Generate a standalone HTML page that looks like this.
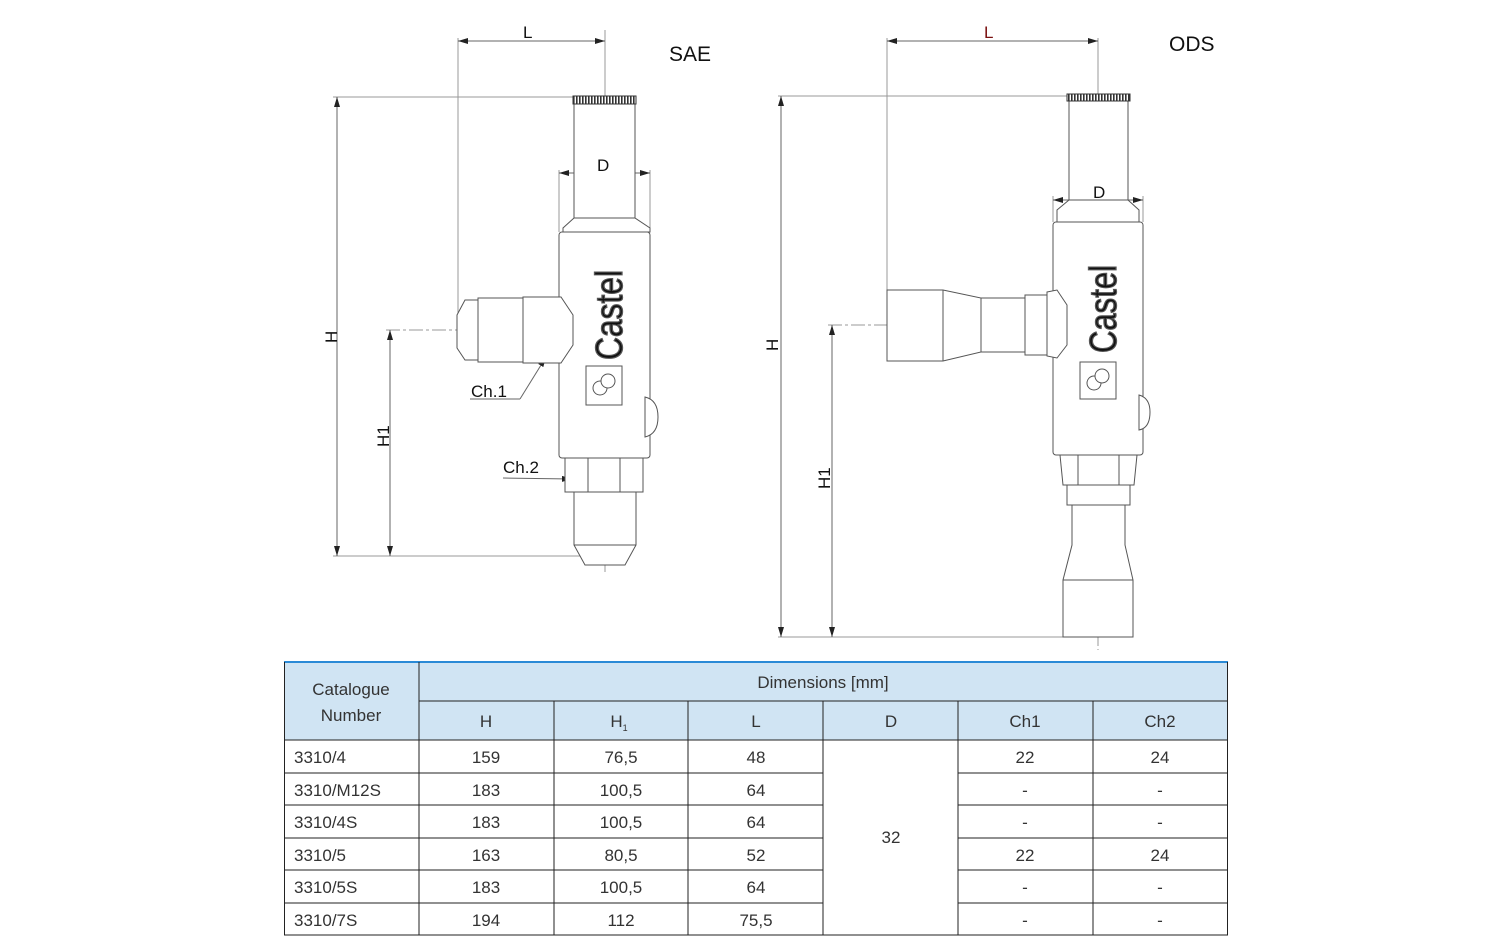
<!DOCTYPE html>
<html><head><meta charset="utf-8"><style>
html,body{margin:0;padding:0;background:#fff;}
svg{display:block;}
.t{font-family:"Liberation Sans",Arial,sans-serif;fill:#111;}
.n{font-family:"Liberation Sans Narrow","Liberation Sans",sans-serif;fill:#333;font-size:17px;}
</style></head><body>
<svg width="1500" height="941" viewBox="0 0 1500 941" xmlns="http://www.w3.org/2000/svg">
<defs>
<marker id="a" viewBox="0 0 10 6" refX="10" refY="3" markerWidth="10" markerHeight="6" orient="auto-start-reverse"><path d="M0,0L10,3L0,6z" fill="#222"/></marker>
<pattern id="kn" width="3" height="8" patternUnits="userSpaceOnUse"><rect width="3" height="8" fill="#fff"/><rect width="1.6" height="8" fill="#333"/></pattern>
</defs>
<g stroke="#999" stroke-width="1" fill="none">
<line x1="458" y1="38" x2="458" y2="330"/>
<line x1="605" y1="38" x2="605" y2="97"/>
<line x1="333" y1="97" x2="573" y2="97"/>
<line x1="333" y1="556" x2="590" y2="556"/>
<line x1="386" y1="330" x2="580" y2="330" stroke-dasharray="14 3 3 3"/>
<line x1="605" y1="30" x2="605" y2="572" stroke-dasharray="14 3 3 3"/>
<line x1="559" y1="170" x2="559" y2="232"/>
<line x1="650" y1="170" x2="650" y2="232"/>
<line x1="887" y1="38" x2="887" y2="325"/>
<line x1="1098" y1="38" x2="1098" y2="94"/>
<line x1="778" y1="96" x2="1067" y2="96"/>
<line x1="778" y1="637" x2="1063" y2="637"/>
<line x1="828" y1="325" x2="1080" y2="325" stroke-dasharray="14 3 3 3"/>
<line x1="1098" y1="80" x2="1098" y2="650" stroke-dasharray="14 3 3 3"/>
<line x1="1053" y1="196" x2="1053" y2="222"/>
<line x1="1143" y1="196" x2="1143" y2="222"/>
</g>
<g stroke="#666" stroke-width="1">
<line x1="458" y1="41" x2="605" y2="41" marker-start="url(#a)" marker-end="url(#a)"/>
<line x1="337" y1="97" x2="337" y2="556" marker-start="url(#a)" marker-end="url(#a)"/>
<line x1="390" y1="330" x2="390" y2="556" marker-start="url(#a)" marker-end="url(#a)"/>
<line x1="559" y1="173" x2="650" y2="173" marker-start="url(#a)" marker-end="url(#a)"/>
<line x1="887" y1="41" x2="1098" y2="41" marker-start="url(#a)" marker-end="url(#a)"/>
<line x1="781" y1="96" x2="781" y2="637" marker-start="url(#a)" marker-end="url(#a)"/>
<line x1="832" y1="325" x2="832" y2="637" marker-start="url(#a)" marker-end="url(#a)"/>
<line x1="1053" y1="200" x2="1143" y2="200" marker-start="url(#a)" marker-end="url(#a)"/>
<line x1="470" y1="399" x2="520" y2="399"/>
<line x1="520" y1="399" x2="546" y2="357" marker-end="url(#a)"/>
<line x1="503" y1="478" x2="572" y2="479" marker-end="url(#a)"/>
</g>
<g stroke="#555" stroke-width="1" fill="#fff">
<rect x="574" y="104" width="61" height="114"/>
<path d="M574,218 L563,228 L563,232 L650,232 L650,228 L635,218Z"/>
<rect x="559" y="232" width="91" height="226" rx="3"/>
<path d="M645,397 Q658,400 658,417 Q658,434 645,437Z"/>
<rect x="565" y="458" width="78" height="34"/>
<line x1="588" y1="458" x2="588" y2="492"/><line x1="620" y1="458" x2="620" y2="492"/>
<path d="M574,492 L636,492 L636,545 L625,565 L585,565 L574,545Z"/>
<line x1="574" y1="545" x2="636" y2="545"/>
<path d="M523,297 L561,297 L573,315 L573,345 L561,363 L523,363Z"/>
<rect x="478" y="298" width="45" height="64"/>
<path d="M478,300 L465,300 L457,315 L457,348 L465,360 L478,360Z"/>
<rect x="586" y="366" width="36" height="39"/>
<circle cx="600" cy="388" r="7"/><circle cx="608" cy="381" r="7"/>
</g>
<rect x="573" y="96" width="63" height="8" fill="url(#kn)" stroke="#333"/>
<text class="t" x="0" y="0" transform="translate(622,360) rotate(-90)" font-size="38" textLength="90" lengthAdjust="spacingAndGlyphs" fill="#fff" stroke="#555" stroke-width="1.3">Castel</text>
<g stroke="#555" stroke-width="1" fill="#fff">
<rect x="1069" y="101" width="59" height="99"/>
<path d="M1069,200 L1057,210 L1057,222 L1139,222 L1139,210 L1128,200Z"/>
<rect x="1053" y="222" width="90" height="233" rx="3"/>
<path d="M1139,395 Q1150,398 1150,412 Q1150,428 1139,430Z"/>
<path d="M1060,455 L1137,455 L1134,485 L1063,485Z"/>
<line x1="1078" y1="455" x2="1078" y2="485"/><line x1="1119" y1="455" x2="1119" y2="485"/>
<rect x="1067" y="485" width="63" height="20"/>
<path d="M1072,505 L1125,505 L1125,545 L1133,580 L1133,637 L1063,637 L1063,580 L1072,545Z"/>
<line x1="1063" y1="580" x2="1133" y2="580"/>
<path d="M887,290 L943,290 L981,298 L981,352 L943,361 L887,361Z"/>
<line x1="943" y1="290" x2="943" y2="361"/>
<rect x="981" y="298" width="44" height="54"/>
<rect x="1025" y="295" width="22" height="60"/>
<path d="M1047,292 L1057,290 L1067,305 L1067,345 L1057,358 L1047,356Z"/>
<rect x="1080" y="362" width="36" height="37"/>
<circle cx="1094" cy="383" r="7"/><circle cx="1102" cy="376" r="7"/>
</g>
<rect x="1067" y="94" width="63" height="7" fill="url(#kn)" stroke="#333"/>
<text class="t" x="0" y="0" transform="translate(1116,353) rotate(-90)" font-size="38" textLength="88" lengthAdjust="spacingAndGlyphs" fill="#fff" stroke="#555" stroke-width="1.3">Castel</text>
<g class="t" font-size="17">
<text x="523" y="38">L</text>
<text x="984" y="38" fill="#7a1010">L</text>
<text x="669" y="61" font-size="21">SAE</text>
<text x="1169" y="51" font-size="21">ODS</text>
<text x="597" y="171">D</text>
<text x="1093" y="198">D</text>
<text x="471" y="397">Ch.1</text>
<text x="503" y="473">Ch.2</text>
<text transform="translate(337,343) rotate(-90)">H</text>
<text transform="translate(389,447) rotate(-90)">H1</text>
<text transform="translate(778,351) rotate(-90)">H</text>
<text transform="translate(830,489) rotate(-90)">H1</text>
</g>
<rect x="284" y="662" width="944" height="78" fill="#d0e4f3"/>
<g stroke="#222" stroke-width="1">
<line x1="284" y1="662" x2="1228" y2="662" stroke="#2a8ad6" stroke-width="2"/>
<line x1="419" y1="701" x2="1228" y2="701"/>
<line x1="284" y1="740" x2="1228" y2="740"/>
<line x1="284" y1="773" x2="823" y2="773"/><line x1="958" y1="773" x2="1228" y2="773"/>
<line x1="284" y1="805" x2="823" y2="805"/><line x1="958" y1="805" x2="1228" y2="805"/>
<line x1="284" y1="838" x2="823" y2="838"/><line x1="958" y1="838" x2="1228" y2="838"/>
<line x1="284" y1="870" x2="823" y2="870"/><line x1="958" y1="870" x2="1228" y2="870"/>
<line x1="284" y1="903" x2="823" y2="903"/><line x1="958" y1="903" x2="1228" y2="903"/>
<line x1="284" y1="935" x2="1228" y2="935"/>
<line x1="284.5" y1="662" x2="284.5" y2="935"/>
<line x1="419" y1="662" x2="419" y2="935"/>
<line x1="554" y1="701" x2="554" y2="935"/>
<line x1="688" y1="701" x2="688" y2="935"/>
<line x1="823" y1="701" x2="823" y2="935"/>
<line x1="958" y1="701" x2="958" y2="935"/>
<line x1="1093" y1="701" x2="1093" y2="935"/>
<line x1="1227.5" y1="662" x2="1227.5" y2="935"/>
</g>
<g class="n" text-anchor="middle">
<text x="351" y="695">Catalogue</text><text x="351" y="721">Number</text>
<text x="823" y="688">Dimensions [mm]</text>
<text x="486" y="727">H</text><text x="619" y="727">H<tspan font-size="9" dy="4">1</tspan></text>
<text x="756" y="727">L</text><text x="891" y="727">D</text><text x="1025" y="727">Ch1</text><text x="1160" y="727">Ch2</text>
<text x="891" y="843">32</text>
</g>
<g class="n">
<text x="294" y="763">3310/4</text><text x="294" y="796">3310/M12S</text><text x="294" y="828">3310/4S</text>
<text x="294" y="861">3310/5</text><text x="294" y="893">3310/5S</text><text x="294" y="926">3310/7S</text>
</g>
<g class="n" text-anchor="middle">
<text x="486" y="763">159</text><text x="621" y="763">76,5</text><text x="756" y="763">48</text><text x="1025" y="763">22</text><text x="1160" y="763">24</text>
<text x="486" y="796">183</text><text x="621" y="796">100,5</text><text x="756" y="796">64</text><text x="1025" y="796">-</text><text x="1160" y="796">-</text>
<text x="486" y="828">183</text><text x="621" y="828">100,5</text><text x="756" y="828">64</text><text x="1025" y="828">-</text><text x="1160" y="828">-</text>
<text x="486" y="861">163</text><text x="621" y="861">80,5</text><text x="756" y="861">52</text><text x="1025" y="861">22</text><text x="1160" y="861">24</text>
<text x="486" y="893">183</text><text x="621" y="893">100,5</text><text x="756" y="893">64</text><text x="1025" y="893">-</text><text x="1160" y="893">-</text>
<text x="486" y="926">194</text><text x="621" y="926">112</text><text x="756" y="926">75,5</text><text x="1025" y="926">-</text><text x="1160" y="926">-</text>
</g>
</svg>
</body></html>
